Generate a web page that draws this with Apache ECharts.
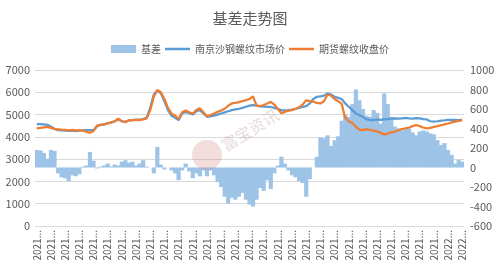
<!DOCTYPE html>
<html>
<head>
<meta charset="utf-8">
<script src="https://cdn.jsdelivr.net/npm/echarts@6/dist/echarts.min.js"></script>
<style>
html,body{margin:0;padding:0;background:#fff;}
#c{width:500px;height:278px;}
</style>
</head>
<body>
<div id="c"></div>
<script>
// Categories (dates)
const dates = ("2021-01-18,2021-01-21,2021-01-24,2021-01-27,2021-01-30,2021-02-02,2021-02-05,2021-02-08,2021-02-11,2021-02-14," +
"2021-02-17,2021-02-20,2021-02-23,2021-02-26,2021-03-01,2021-03-04,2021-03-07,2021-03-10,2021-03-13,2021-03-16," +
"2021-03-19,2021-03-22,2021-03-25,2021-03-28,2021-03-31,2021-04-03,2021-04-06,2021-04-09,2021-04-12,2021-04-15," +
"2021-04-18,2021-04-21,2021-04-24,2021-04-27,2021-04-30,2021-05-03,2021-05-06,2021-05-09,2021-05-12,2021-05-15," +
"2021-05-18,2021-05-21,2021-05-24,2021-05-27,2021-05-30,2021-06-02,2021-06-05,2021-06-08,2021-06-11,2021-06-14," +
"2021-06-17,2021-06-20,2021-06-23,2021-06-26,2021-06-29,2021-07-02,2021-07-05,2021-07-08,2021-07-11,2021-07-14," +
"2021-07-17,2021-07-20,2021-07-23,2021-07-26,2021-07-29,2021-08-01,2021-08-04,2021-08-07,2021-08-10,2021-08-13," +
"2021-08-16,2021-08-19,2021-08-22,2021-08-25,2021-08-28,2021-08-31,2021-09-03,2021-09-06,2021-09-09,2021-09-12," +
"2021-09-15,2021-09-18,2021-09-21,2021-09-24,2021-09-27,2021-09-30,2021-10-03,2021-10-06,2021-10-09,2021-10-12," +
"2021-10-15,2021-10-18,2021-10-21,2021-10-24,2021-10-27,2021-10-30,2021-11-02,2021-11-05,2021-11-08,2021-11-11," +
"2021-11-14,2021-11-17,2021-11-20,2021-11-23,2021-11-26,2021-11-29,2021-12-02,2021-12-05,2021-12-08,2021-12-11," +
"2021-12-14,2021-12-17,2021-12-20,2021-12-23,2021-12-26,2021-12-29,2022-01-01,2022-01-04,2022-01-07,2022-01-10," +
"2022-01-13").split(",");

// 基差 (right axis)
const basis = [
180,175,150,90,180,170,-60,-100,-110,-140,
-80,-90,-70,10,20,160,70,-10,10,20,
40,10,30,20,60,75,50,60,20,40,
75,10,0,-60,210,30,-20,0,-30,-60,
-130,-30,40,-40,-110,-60,-90,-30,-90,-30,
-80,-150,-200,-300,-370,-310,-330,-300,-260,-330,
-380,-400,-330,-210,-240,-130,-220,-60,20,110,
40,-30,-80,-100,-140,-160,-300,-120,0,110,
310,300,330,220,280,320,480,540,520,650,
800,690,600,530,520,590,560,450,760,650,
520,420,400,380,390,400,360,330,370,380,
370,350,340,280,230,250,180,130,40,80,
60];

// 南京沙钢螺纹市场价 (left axis)
const spot = [
4570,4570,4560,4540,4450,4360,4300,4290,4280,4270,
4280,4260,4280,4290,4300,4300,4300,4480,4540,4560,
4620,4640,4700,4780,4700,4680,4740,4750,4770,4760,
4800,4860,5300,5900,6080,5950,5600,5200,4950,4850,
4750,5050,5120,5060,5000,5150,5200,5050,4900,4920,
4950,5000,5050,5100,5150,5200,5230,5260,5300,5350,
5400,5420,5400,5370,5360,5350,5340,5300,5250,5200,
5180,5200,5220,5260,5300,5350,5380,5500,5700,5800,
5820,5850,5950,5900,5800,5750,5700,5500,5350,5200,
5050,4980,4900,4780,4760,4750,4780,4760,4780,4800,
4820,4830,4820,4830,4850,4830,4820,4840,4830,4800,
4780,4700,4680,4700,4730,4740,4760,4760,4760,4750,
4760];

// 期货螺纹收盘价 (left axis)
const futures = [
4380,4400,4430,4450,4400,4360,4340,4320,4310,4290,
4310,4290,4300,4280,4230,4180,4260,4500,4540,4560,
4600,4650,4700,4820,4700,4660,4740,4750,4760,4750,
4780,4830,5200,5800,6100,6000,5700,5300,5050,4950,
4800,5100,5180,5100,5050,5200,5280,5100,4920,4980,
5050,5120,5180,5260,5400,5500,5520,5560,5600,5650,
5700,5820,5400,5380,5430,5500,5570,5450,5250,5060,
5120,5180,5200,5260,5330,5450,5640,5600,5580,5520,
5500,5600,5900,5850,5700,5600,5480,4850,4700,4620,
4450,4320,4300,4350,4300,4280,4250,4180,4100,4150,
4200,4230,4300,4350,4380,4420,4480,4530,4480,4420,
4380,4400,4450,4480,4520,4560,4600,4650,4680,4720,
4750];

const leftTicks = {min: 0, max: 7000, interval: 1000};
const rightTicks = {min: -600, max: 1000, interval: 200};

const FONT = '"Noto Sans CJK SC", "Liberation Sans", sans-serif';
const TXT = '#595959';
const LINE_ICON = 'path://M0,0L25,0L25,2.5L0,2.5Z';

const chart = echarts.init(document.getElementById('c'), null, {renderer: 'canvas'});
chart.setOption({
  animation: false,
  backgroundColor: '#fff',
  title: {
    text: '基差走势图', left: 'center', top: 6,
    textStyle: {fontFamily: FONT, fontSize: 15, fontWeight: 'normal', color: TXT}
  },
  legend: {
    top: 39, left: 'center', itemWidth: 25, itemHeight: 8, itemGap: 4,
    textStyle: {fontFamily: FONT, fontSize: 10, color: TXT},
    data: [
      {name: '基差', icon: 'rect'},
      {name: '南京沙钢螺纹市场价', icon: LINE_ICON},
      {name: '期货螺纹收盘价', icon: LINE_ICON}
    ]
  },
  grid: {left: 35, right: 36, top: 70, bottom: 52, containLabel: false},
  xAxis: {
    type: 'category', data: dates, boundaryGap: true,
    axisLine: {show: false}, axisTick: {show: false},
    axisLabel: {
      interval: 3, rotate: 90, margin: 4, fontFamily: FONT, fontSize: 10, color: TXT,
      formatter: v => v.slice(0, 4) + '...'
    }
  },
  yAxis: [
    {
      type: 'value', min: leftTicks.min, max: leftTicks.max, interval: leftTicks.interval,
      axisLine: {show: false}, axisTick: {show: false},
      axisLabel: {margin: 5, fontFamily: FONT, fontSize: 11, color: TXT, formatter: v => String(v)},
      splitLine: {lineStyle: {color: '#D9D9D9', width: 1}}
    },
    {
      type: 'value', min: rightTicks.min, max: rightTicks.max, interval: rightTicks.interval,
      axisLine: {show: false}, axisTick: {show: false},
      axisLabel: {margin: 6, fontFamily: FONT, fontSize: 11, color: TXT, formatter: v => String(v)},
      splitLine: {show: false}
    }
  ],
  series: [
    {
      name: '基差', type: 'bar', yAxisIndex: 1, data: basis,
      barWidth: 4.2,
      itemStyle: {color: '#9DC3E6', borderWidth: 0}
    },
    {
      name: '南京沙钢螺纹市场价', type: 'line', yAxisIndex: 0, data: spot,
      symbol: 'none', showSymbol: false,
      lineStyle: {color: '#5B9BD5', width: 2.25},
      itemStyle: {color: '#5B9BD5'}
    },
    {
      name: '期货螺纹收盘价', type: 'line', yAxisIndex: 0, data: futures,
      symbol: 'none', showSymbol: false,
      lineStyle: {color: '#ED7D31', width: 2.25},
      itemStyle: {color: '#ED7D31'}
    }
  ],
  graphic: [
    {
      type: 'circle', shape: {cx: 207, cy: 155, r: 15}, z: 100,
      style: {fill: 'rgba(215,140,140,0.30)'}
    },
    {
      type: 'text', x: 250, y: 130, rotation: 0.55, z: 100,
      style: {text: '富宝资讯', fontFamily: FONT, fontSize: 16, fill: 'rgba(190,150,150,0.35)',
              align: 'center', verticalAlign: 'middle'}
    }
  ]
});
</script>
</body>
</html>
